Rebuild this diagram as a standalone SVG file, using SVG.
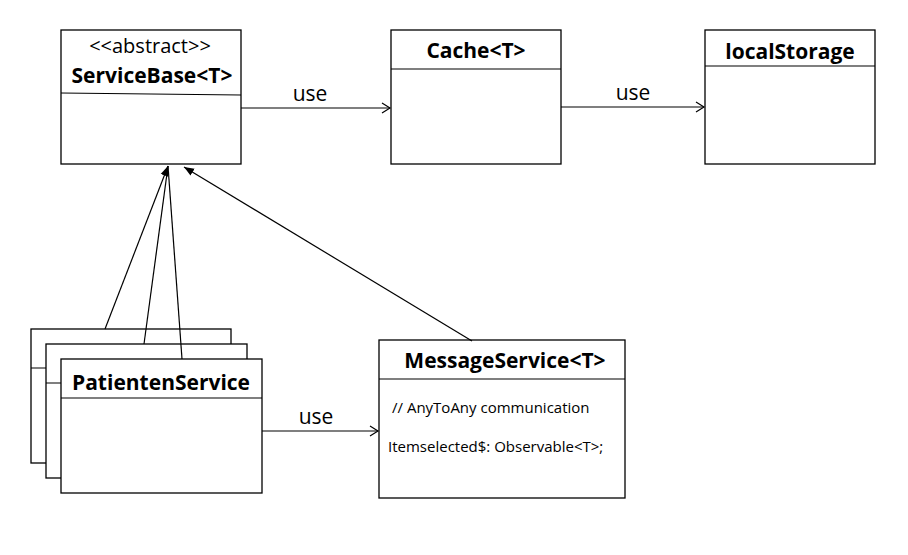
<svg xmlns="http://www.w3.org/2000/svg" width="908" height="555" viewBox="0 0 908 555">
<style>
.box{fill:#fff;stroke:#000;stroke-width:1.3}
.ln{stroke:#000;stroke-width:1.2;fill:none}
.t{font-family:"Open Sans","Liberation Sans",sans-serif;font-size:21px;font-weight:bold;text-anchor:middle;fill:#000}
.s{font-family:"Open Sans","Liberation Sans",sans-serif;font-size:21px;text-anchor:middle;fill:#000}
.m{font-family:"Open Sans","Liberation Sans",sans-serif;font-size:15px;fill:#000}
</style>
<defs>
<marker id="open" markerWidth="12" markerHeight="12" refX="10" refY="6" orient="auto" markerUnits="userSpaceOnUse">
<path d="M2,1 L10,6 L2,11" fill="none" stroke="#000" stroke-width="1.2"/>
</marker>
<marker id="fill" markerWidth="12" markerHeight="12" refX="10" refY="6" orient="auto" markerUnits="userSpaceOnUse">
<path d="M0,2 L10,6 L0,10 Z" fill="#000"/>
</marker>
</defs>
<rect width="908" height="555" fill="#fff"/>
<g id="ServiceBase">
<rect class="box" x="61" y="30" width="180" height="134"/>
<line class="ln" x1="61" y1="93" x2="241" y2="95"/>
<text class="s" x="150" y="53" style="font-size:20px">&lt;&lt;abstract&gt;&gt;</text>
<text class="t" x="152" y="83">ServiceBase&lt;T&gt;</text>
</g>
<g id="Cache">
<rect class="box" x="391" y="30" width="170" height="134"/>
<line class="ln" x1="391" y1="69" x2="561" y2="69"/>
<text class="t" x="476" y="58">Cache&lt;T&gt;</text>
</g>
<g id="localStorage">
<rect class="box" x="705" y="30" width="170" height="134"/>
<line class="ln" x1="705" y1="66" x2="875" y2="66"/>
<text class="t" x="790" y="59">localStorage</text>
</g>
<g id="PatientenService">
<rect class="box" x="31" y="329" width="200" height="134"/>
<line class="ln" x1="31" y1="368" x2="231" y2="368"/>
<rect class="box" x="46" y="344" width="201" height="134"/>
<line class="ln" x1="46" y1="383" x2="247" y2="383"/>
<rect class="box" x="61" y="359" width="201" height="134"/>
<line class="ln" x1="61" y1="398" x2="262" y2="398"/>
<text class="t" x="161" y="390">PatientenService</text>
</g>
<g id="MessageService">
<rect class="box" x="379" y="340" width="246" height="158"/>
<line class="ln" x1="379" y1="379" x2="625" y2="379"/>
<text class="t" x="505" y="368">MessageService&lt;T&gt;</text>
<text class="m" x="392" y="413">// AnyToAny communication</text>
<text class="m" x="388" y="452">Itemselected$: Observable&lt;T&gt;;</text>
</g>
<g id="connectors">
<line class="ln" x1="241" y1="108" x2="390" y2="108" marker-end="url(#open)"/>
<text class="s" x="310" y="101">use</text>
<line class="ln" x1="561" y1="107" x2="704" y2="107" marker-end="url(#open)"/>
<text class="s" x="633" y="100">use</text>
<line class="ln" x1="262" y1="431" x2="378" y2="431" marker-end="url(#open)"/>
<text class="s" x="316" y="424">use</text>
<line class="ln" x1="105" y1="329" x2="168" y2="166" marker-end="url(#fill)"/>
<line class="ln" x1="144" y1="344" x2="168" y2="166"/>
<line class="ln" x1="182" y1="359" x2="168" y2="166"/>
<line class="ln" x1="472" y1="341" x2="184" y2="167" marker-end="url(#fill)"/>
</g>
</svg>
